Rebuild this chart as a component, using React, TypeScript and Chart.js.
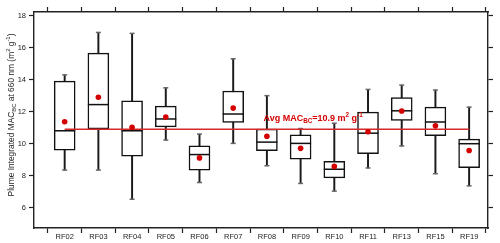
import React, { useEffect, useRef } from 'react';
import { Chart, registerables } from 'chart.js';

Chart.register(...registerables);

const categories = ['RF02', 'RF03', 'RF04', 'RF05', 'RF06', 'RF07', 'RF08', 'RF09', 'RF10', 'RF11', 'RF13', 'RF15', 'RF19'];
const whiskerLow = [8.35, 8.35, 6.52, 10.23, 7.57, 10.02, 8.62, 7.51, 7.03, 8.48, 9.86, 8.12, 7.36];
const q1 = [9.59, 10.93, 9.22, 11.05, 8.35, 11.34, 9.57, 9.03, 7.86, 9.38, 11.46, 10.5, 8.5];
const median = [10.81, 12.45, 10.81, 11.55, 9.32, 11.86, 10.1, 10.02, 8.4, 10.66, 12.06, 11.36, 10.0];
const q3 = [13.92, 15.67, 12.68, 12.35, 9.86, 13.3, 10.91, 10.56, 8.89, 11.98, 12.89, 12.29, 10.29];
const whiskerHigh = [14.31, 16.97, 16.91, 13.5, 10.6, 15.32, 13.01, 10.95, 11.28, 13.4, 13.67, 13.36, 12.29];
const mean = [11.38, 12.91, 11.03, 11.67, 9.11, 12.23, 10.47, 9.71, 8.58, 10.75, 12.05, 11.12, 9.57];
const avgMAC = 10.9;
const yTicks = [6, 8, 10, 12, 14, 16, 18];

const FONT = '"Liberation Sans", Arial, Helvetica, sans-serif';
const RED = '#d40000';
const INK = '#222';

type Seg = { t: string; size: number; dy: number };

function drawRich(ctx: CanvasRenderingContext2D, segs: Seg[], x: number, y: number, bold: boolean, align: 'left' | 'center') {
  const w = segs.map((s) => {
    ctx.font = `${bold ? 'bold ' : ''}${s.size}px ${FONT}`;
    return ctx.measureText(s.t).width;
  });
  const total = w.reduce((a, b) => a + b, 0);
  let cx = align === 'center' ? x - total / 2 : x;
  ctx.textAlign = 'left';
  ctx.textBaseline = 'alphabetic';
  segs.forEach((s, i) => {
    ctx.font = `${bold ? 'bold ' : ''}${s.size}px ${FONT}`;
    ctx.fillText(s.t, cx, y + s.dy);
    cx += w[i];
  });
}

const textPlugin = {
  id: 'richText',
  afterDatasetsDraw(chart: any) {
    const ctx: CanvasRenderingContext2D = chart.ctx;
    const xs = chart.scales.x;
    const ys = chart.scales.y;
    ctx.save();
    ctx.fillStyle = RED;
    const lx = xs.getPixelForValue(5.9);
    const ly = ys.getPixelForValue(avgMAC) - 8.5;
    drawRich(ctx, [
      { t: 'Avg MAC', size: 9, dy: 0 },
      { t: 'BC', size: 6.3, dy: 2 },
      { t: '=10.9 m', size: 9, dy: 0 },
      { t: '2', size: 6.3, dy: -4.2 },
      { t: ' g', size: 9, dy: 0 },
      { t: '-1', size: 6.3, dy: -4.2 },
    ], lx, ly, true, 'left');
    ctx.restore();
  },
  afterDraw(chart: any) {
    const ctx: CanvasRenderingContext2D = chart.ctx;
    const a = chart.chartArea;
    ctx.save();
    ctx.fillStyle = INK;
    ctx.translate(13.8, (a.top + a.bottom) / 2 - 5);
    ctx.rotate(-Math.PI / 2);
    drawRich(ctx, [
      { t: 'Plume Integrated MAC', size: 8.4, dy: 0 },
      { t: 'BC', size: 5.9, dy: 1.9 },
      { t: ' at 660 nm (m', size: 8.4, dy: 0 },
      { t: '2', size: 5.9, dy: -3.8 },
      { t: ' g', size: 8.4, dy: 0 },
      { t: '-1', size: 5.9, dy: -3.8 },
      { t: ')', size: 8.4, dy: 0 },
    ], 0, 0, false, 'center');
    ctx.restore();
  },
};

const halfTicks = categories.map((_, i) => i - 0.5).concat([categories.length - 0.5]);

function frameAxis(position: string, axisKind: 'x' | 'y', size: number, showLabels: boolean) {
  const isX = axisKind === 'x';
  return {
    type: 'linear',
    position,
    display: true,
    min: isX ? -0.91 : 4.72,
    max: isX ? 12.56 : 18.25,
    offset: false,
    grid: {
      display: true,
      drawOnChartArea: false,
      drawTicks: true,
      tickLength: 5,
      tickColor: INK,
      tickWidth: 1.2,
      offset: false,
    },
    border: { display: true, color: INK, width: 1.4 },
    afterBuildTicks: (s: any) => {
      s.ticks = (isX ? halfTicks : yTicks).map((v) => ({ value: v }));
    },
    afterFit: (s: any) => {
      if (isX) s.height = size;
      else s.width = size;
    },
    ticks: {
      display: showLabels,
      autoSkip: false,
      maxRotation: 0,
      minRotation: 0,
      padding: isX ? -1 : 3,
      labelOffset: isX ? 16.9 : 0,
      color: INK,
      font: { family: FONT, size: 7.5 },
      callback: (v: number) => {
        if (!isX) return String(v);
        const idx = Math.round(v + 0.5);
        return categories[idx] ?? '';
      },
    },
  };
}

export default function App() {
  const ref = useRef<HTMLCanvasElement | null>(null);
  useEffect(() => {
    document.body.style.margin = '0';
    if (!ref.current) return;
    const pts = (arr: number[]) => arr.map((y, i) => ({ x: i, y }));
    const chart = new Chart(ref.current, {
      type: 'bar',
      data: {
        datasets: [
          {
            type: 'scatter',
            data: pts(mean),
            pointStyle: 'circle',
            pointRadius: 2.8,
            pointBackgroundColor: RED,
            pointBorderWidth: 0,
            order: 0,
          } as any,
          {
            type: 'line',
            data: [{ x: 0, y: avgMAC }, { x: categories.length - 1, y: avgMAC }],
            borderColor: '#d42a2a',
            borderWidth: 1.5,
            pointRadius: 0,
            order: 1,
          } as any,
          {
            type: 'scatter',
            data: pts(median),
            pointStyle: 'line',
            pointRadius: 10.5,
            pointBorderColor: '#111',
            pointBorderWidth: 1.5,
            order: 2,
          } as any,
          {
            type: 'scatter',
            data: pts(whiskerLow).concat(pts(whiskerHigh)),
            pointStyle: 'line',
            pointRadius: 2.5,
            pointBorderColor: '#666',
            pointBorderWidth: 1.5,
            order: 3,
          } as any,
          {
            type: 'bar',
            data: categories.map((_, i) => ({ x: i, y: [q1[i], q3[i]] })),
            backgroundColor: '#fff',
            borderColor: '#111',
            borderWidth: 1.5,
            borderSkipped: false,
            barThickness: 21,
            grouped: false,
            order: 4,
          } as any,
          {
            type: 'bar',
            data: categories.map((_, i) => ({ x: i, y: [whiskerLow[i], whiskerHigh[i]] })),
            backgroundColor: '#1a1a1a',
            borderWidth: 0,
            barThickness: 1.3,
            grouped: false,
            order: 5,
          } as any,
        ],
      },
      options: {
        animation: false,
        responsive: false,
        maintainAspectRatio: false,
        layout: { padding: 0 },
        plugins: { legend: { display: false }, tooltip: { enabled: false } },
        scales: {
          x: frameAxis('bottom', 'x', 15, true),
          x2: frameAxis('top', 'x', 10, false),
          y: frameAxis('left', 'y', 34, true),
          y2: frameAxis('right', 'y', 11, false),
        } as any,
      },
      plugins: [textPlugin],
    });
    return () => chart.destroy();
  }, []);
  return (
    <div style={{ width: 500, height: 243 }}>
      <canvas ref={ref} width={500} height={243} style={{ display: 'block', width: 500, height: 243 }} />
    </div>
  );
}
